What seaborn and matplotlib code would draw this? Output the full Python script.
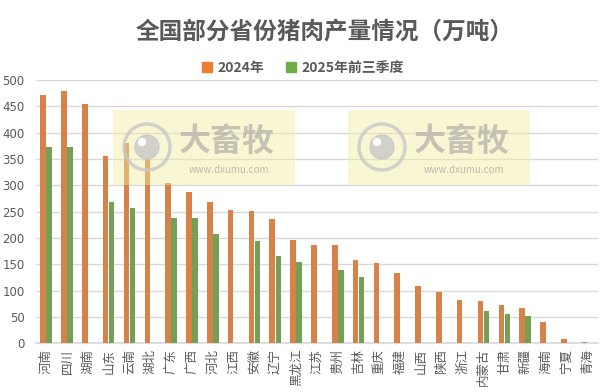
import matplotlib
matplotlib.use("Agg")
import matplotlib.pyplot as plt
from matplotlib.patches import Rectangle, Ellipse
import seaborn as sns
import numpy as np
import pandas as pd

provinces = ["河南", "四川", "湖南", "山东", "云南", "湖北", "广东", "广西", "河北",
             "江西", "安徽", "辽宁", "黑龙江", "江苏", "贵州", "吉林", "重庆", "福建",
             "山西", "陕西", "浙江", "内蒙古", "甘肃", "新疆", "海南", "宁夏", "青海"]
output_2024 = [471, 479, 454, 356, 380, 350, 304, 287, 268,
               253, 251, 236, 196, 187, 187, 158, 152, 133,
               109, 97, 82, 80, 73, 67, 40, 8, 2.5]
output_2025q3 = [372, 372, np.nan, 268, 257, np.nan, 238, 238, 207,
                 np.nan, 195, 166, 154, np.nan, 139, 126, np.nan, np.nan,
                 np.nan, np.nan, np.nan, 61, 56, 52, np.nan, np.nan, np.nan]
series_names = ["2024年", "2025年前三季度"]
colors = ["#ED7D31", "#70AD47"]

df = pd.DataFrame({
    "省份": provinces * 2,
    "产量": output_2024 + output_2025q3,
    "系列": [series_names[0]] * len(provinces) + [series_names[1]] * len(provinces),
})

sns.set_theme(style="white")
plt.rcParams["font.family"] = ["Noto Sans CJK SC", "DejaVu Sans"]
text_gray = "#595959"

fig = plt.figure(figsize=(6.06, 3.92), dpi=100)
ax = fig.add_axes([0.059, 0.124, 0.928, 0.672])

sns.barplot(data=df, x="省份", y="产量", hue="系列", palette=colors,
            width=0.58, gap=0.08, linewidth=0, edgecolor="none",
            ax=ax, legend=False, zorder=3)

ax.set_ylim(0, 500)
ax.set_xlim(-0.5, len(provinces) - 0.5)
ax.set_yticks(range(0, 501, 50))
ax.yaxis.grid(True, color="#d9d9d9", lw=1, zorder=0)
ax.set_axisbelow(True)
ax.set_xlabel("")
ax.set_ylabel("")
sns.despine(ax=ax, left=True, bottom=False, top=True, right=True)
ax.spines["bottom"].set_color("#d9d9d9")
ax.tick_params(axis="y", length=0, labelsize=8.5, colors=text_gray, pad=8)
ax.tick_params(axis="x", length=0, labelsize=9, colors=text_gray, pad=4)
for lbl in ax.get_yticklabels():
    lbl.set_family(["DejaVu Sans"])
ax.set_xticks(range(len(provinces)))
ax.set_xticklabels(provinces, rotation=90, va="top", ha="center")

# watermark boxes laid over the plot
for x0 in (113, 348):
    fig.patches.append(Rectangle((x0 / 606, 1 - 185 / 392), 182 / 606, 75 / 392,
                                 transform=fig.transFigure, color="#f3eca0",
                                 alpha=0.45, zorder=10, lw=0))
    cx, cy = (x0 + 34) / 606, 1 - 147 / 392
    fig.patches.append(Ellipse((cx, cy), 46 / 606, 46 / 392,
                               transform=fig.transFigure, fill=False,
                               ec="#c8c8c8", lw=2.5, zorder=11, alpha=0.8))
    fig.patches.append(Ellipse((cx, cy), 24 / 606, 24 / 392,
                               transform=fig.transFigure, color="#c8c8c8",
                               zorder=11, alpha=0.8))
    fig.patches.append(Ellipse((cx - 5 / 606, cy + 5 / 392), 7 / 606, 7 / 392,
                               transform=fig.transFigure, color="white",
                               zorder=12))
    fig.text((x0 + 114) / 606, 1 - 142 / 392, "大畜牧", fontsize=23,
             color="#bdbab0", ha="center", va="center", fontweight="bold",
             zorder=12, alpha=0.85)
    fig.text((x0 + 116) / 606, 1 - 170 / 392, "www.dxumu.com", fontsize=7,
             color="#bdbab0", ha="center", va="center", zorder=12)

fig.text(0.535, 0.918, "全国部分省份猪肉产量情况（万吨）", ha="center", va="center",
         fontsize=17, fontweight="bold", color=text_gray)

# legend
handles = [Rectangle((0, 0), 1, 1, color=c) for c in colors]
fig.legend(handles, series_names, loc="center", bbox_to_anchor=(0.5, 0.827),
           ncol=2, frameon=False, handlelength=0.7, handleheight=0.7,
           handletextpad=0.4, columnspacing=1.6,
           prop={"size": 10, "weight": "bold"}, labelcolor=text_gray)

fig.savefig("out.png", dpi=100)
